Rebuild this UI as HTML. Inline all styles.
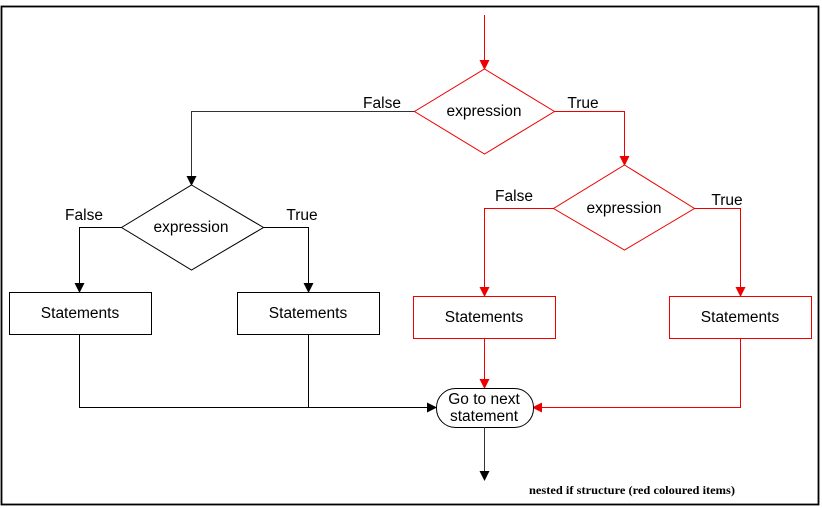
<!DOCTYPE html>
<html><head><meta charset="utf-8"><style>html,body{margin:0;padding:0;background:#fff}svg{display:block}</style></head>
<body>
<svg width="822" height="508" viewBox="0 0 822 508" xmlns="http://www.w3.org/2000/svg" font-family="Liberation Sans, sans-serif" font-size="15.5">
<defs>
<marker id="ab" markerWidth="10" markerHeight="10" refX="9" refY="5" orient="auto" markerUnits="userSpaceOnUse"><path d="M0,0 L10,5 L0,10 z" fill="#000"/></marker>
<marker id="ar" markerWidth="10" markerHeight="10" refX="9" refY="5" orient="auto" markerUnits="userSpaceOnUse"><path d="M0,0 L10,5 L0,10 z" fill="#e00"/></marker>
</defs>
<rect x="1.5" y="6.5" width="817" height="498" fill="#fff" stroke="#000" stroke-width="1.8"/>
<g fill="none" stroke-width="1">
<path d="M484.5,15 V69" stroke="#e00" marker-end="url(#ar)"/>
<polygon points="484.5,69 554.5,111.5 484.5,154 414.5,111.5" stroke="#e00" fill="#fff"/>
<path d="M554.5,111.5 H624.5 V165" stroke="#e00" marker-end="url(#ar)"/>
<polygon points="624.5,165 694.5,208.5 624.5,250 553.5,208.5" stroke="#e00" fill="#fff"/>
<path d="M553.5,208.5 H484.5 V296" stroke="#e00" marker-end="url(#ar)"/>
<path d="M694.5,208.5 H740.5 V296" stroke="#e00" marker-end="url(#ar)"/>
<rect x="413.5" y="296.5" width="142" height="42" stroke="#e00" fill="#fff"/>
<rect x="669.5" y="296.5" width="142" height="42" stroke="#e00" fill="#fff"/>
<path d="M484.5,338 V388" stroke="#e00" marker-end="url(#ar)"/>
<path d="M740.5,338 V407.5 H533" stroke="#e00" marker-end="url(#ar)"/>
<path d="M414.5,111.5 H191.5 V185" stroke="#333" marker-end="url(#ab)"/>
<polygon points="191.5,185 263.5,227.5 191.5,270 121.5,227.5" stroke="#000" fill="#fff"/>
<path d="M121.5,227.5 H79.5 V292" stroke="#000" marker-end="url(#ab)"/>
<path d="M263.5,227.5 H308.5 V292" stroke="#000" marker-end="url(#ab)"/>
<rect x="9.5" y="292.5" width="142" height="42" stroke="#000" fill="#fff"/>
<rect x="237.5" y="292.5" width="142" height="42" stroke="#000" fill="#fff"/>
<path d="M79.5,334 V407.5 H436" stroke="#000" marker-end="url(#ab)"/>
<path d="M308.5,334 V407.5" stroke="#000"/>
<rect x="436.5" y="388.5" width="97" height="39" rx="19" stroke="#000" fill="#fff"/>
<path d="M484.5,427 V480" stroke="#333" marker-end="url(#ab)"/>
</g>
<g fill="#000" text-anchor="middle">
<text x="484" y="116">expression</text>
<text x="624" y="213">expression</text>
<text x="191" y="232">expression</text>
<text x="80" y="318">Statements</text>
<text x="308" y="318">Statements</text>
<text x="484" y="322">Statements</text>
<text x="740" y="322">Statements</text>
<text x="484" y="404">Go to next</text>
<text x="484" y="421">statement</text>
<text x="382" y="108">False</text>
<text x="583" y="108">True</text>
<text x="84" y="220">False</text>
<text x="302" y="220">True</text>
<text x="514" y="201">False</text>
<text x="727" y="205">True</text>
</g>
<text x="632" y="494" text-anchor="middle" font-family="Liberation Serif, serif" font-weight="bold" font-size="12" textLength="206" lengthAdjust="spacingAndGlyphs">nested if structure (red coloured items)</text>
</svg>
</body></html>
